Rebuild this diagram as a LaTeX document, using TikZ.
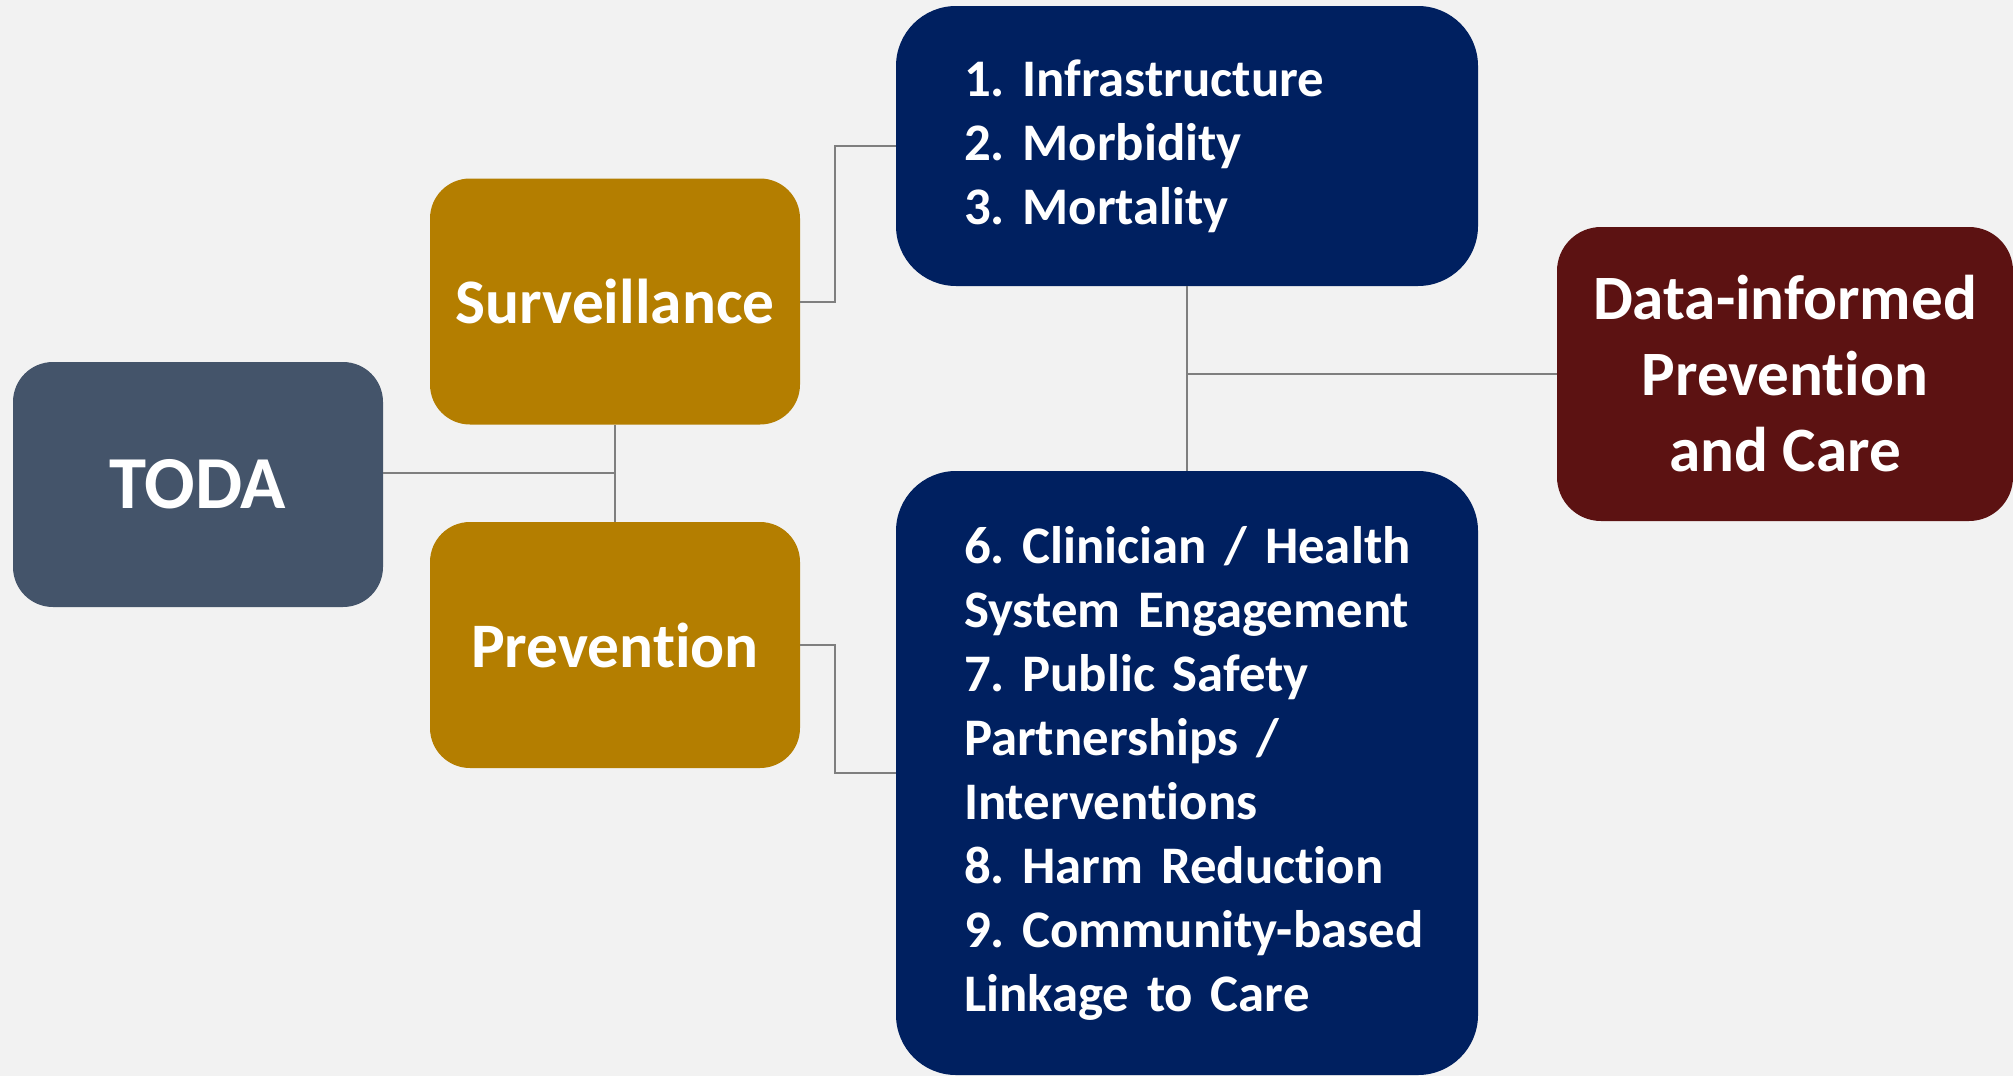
\documentclass[tikz,border=0pt]{standalone}
\usepackage{fontspec}
\setmainfont{Carlito}[Ligatures=NoCommon]
\usepackage{tikz}
\usetikzlibrary{calc}

\definecolor{paper}{HTML}{F2F2F2}
\definecolor{slate}{HTML}{44546A}
\definecolor{gold}{HTML}{B47E00}
\definecolor{navy}{HTML}{002060}
\definecolor{maroon}{HTML}{5C1212}
\definecolor{wire}{HTML}{7F7F7F}

\begin{document}
\frenchspacing
\hyphenpenalty=10000
\exhyphenpenalty=10000
\hbadness=10000
\hfuzz=20pt
\begin{tikzpicture}[x=0.5pt, y=-0.5pt,
    box/.style={rectangle, text=white, align=center, inner sep=0pt},
    listbox/.style={box, fill=navy, rounded corners=30pt, align=left,
        text width=223pt, minimum width=291pt,
        font=\bfseries\fontsize{26.4pt}{32pt}\selectfont},
    link/.style={draw=wire, line width=1pt}]
% background and page size
\fill[paper] (0,0) rectangle (2013,1076);
\useasboundingbox (0,0) rectangle (2013,1076);

\node[box, fill=slate, rounded corners=20pt, minimum width=185pt,
    minimum height=122.5pt, font=\bfseries\fontsize{37.4pt}{44pt}\selectfont]
    (toda) at (198,484.5) {TODA};
\node[box, fill=gold, rounded corners=20pt, minimum width=185pt,
    minimum height=123pt, font=\bfseries\fontsize{31.7pt}{38pt}\selectfont]
    (surv) at (615,301.5) {Surveillance};
\node[box, fill=gold, rounded corners=20pt, minimum width=185pt,
    minimum height=123pt, font=\bfseries\fontsize{31.7pt}{38pt}\selectfont]
    (prev) at (615,645) {Prevention};

\node[listbox, minimum height=140pt] (infra) at (1187,146)
    {1. Infrastructure\\2. Morbidity\\3. Mortality};
\node[listbox, minimum height=302pt] (progs) at (1187,773)
    {6.~Clinician~/~Health\\System~Engagement\\7. Public Safety\\
     Partnerships~/\\Interventions\\8. Harm Reduction\\
     9.~Community-based\\Linkage to Care};

\node[box, fill=maroon, rounded corners=22pt, minimum width=228pt,
    minimum height=147pt, font=\bfseries\fontsize{31.6pt}{38pt}\selectfont]
    (care) at (1785,374) {Data-informed\\Prevention\\and Care};

% connectors
\coordinate (jn) at ($(surv.south)!0.5!(prev.north)$);
\draw[link] (surv.south) -- (prev.north);
\draw[link] (toda.east |- jn) -- (jn);
\draw[link] (surv.east) -- ++(35,0) |- (infra.west);
\draw[link] (prev.east) -- ++(35,0) |- (progs.west);
\draw[link] (infra.south) -- (progs.north);
\draw[link] (care.west) -- (care.west -| infra.south);

\end{tikzpicture}
\end{document}
